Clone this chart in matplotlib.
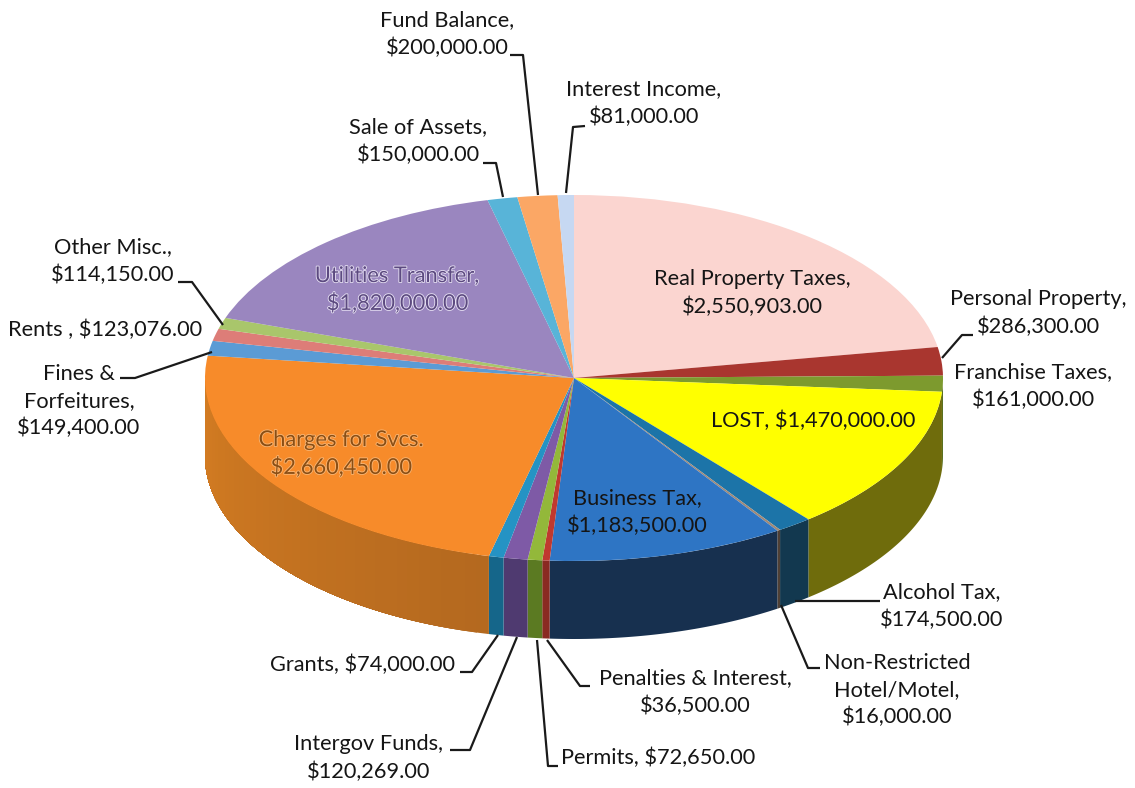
import numpy as np
import matplotlib
matplotlib.use("Agg")
import matplotlib.pyplot as plt
import matplotlib.patheffects as pe
from matplotlib.colors import to_rgb
from matplotlib.patches import Polygon

plt.rcParams['font.family'] = ['Lato', 'DejaVu Sans']

# clockwise from 12 o'clock
categories = ["Real Property Taxes", "Personal Property", "Franchise Taxes", "LOST",
              "Alcohol Tax", "Non-Restricted Hotel/Motel", "Business Tax",
              "Penalties & Interest", "Permits", "Intergov Funds", "Grants",
              "Charges for Svcs.", "Fines & Forfeitures", "Rents", "Other Misc.",
              "Utilities Transfer", "Sale of Assets", "Fund Balance", "Interest Income"]
values = [2550903, 286300, 161000, 1470000, 174500, 16000, 1183500, 36500, 72650,
          120269, 74000, 2660450, 149400, 123076, 114150, 1820000, 150000, 200000, 81000]
top_colors = ["#fbd5d0", "#a9362f", "#7d9a2e", "#ffff00", "#1c74a8", "#a08a78", "#2e75c4",
              "#c0392f", "#93b83a", "#7e5aa6", "#2593c4", "#f78b2a", "#5b9bd5", "#dd7d78",
              "#a9c66b", "#9a86bf", "#58b4d8", "#fba765", "#c6d8f2"]
side_colors = ["#c9a8a4", "#7c2622", "#5a7020", "#6f6c0c", "#12384f", "#4f4036", "#17304f",
               "#8a2a22", "#5b7a22", "#4f3a70", "#15668a", "#b4691f", "#3a6a96", "#a05a55",
               "#7a9048", "#6c5e88", "#3c84a0", "#b87a48", "#8c9cb0"]
charges_wall_left = "#d47c22"

# centred text: (text, x, y) in image pixels
outer_labels = [("Fund Balance,\n$200,000.00", 447, 34),
                ("Interest Income,\n$81,000.00", 644, 103),
                ("Sale of Assets,\n$150,000.00", 418, 141),
                ("Other Misc.,\n$114,150.00", 113, 261),
                ("Rents , $123,076.00", 105, 330),
                ("Fines &\nForfeitures,\n$149,400.00", 79, 401),
                ("Personal Property,\n$286,300.00", 1038, 313),
                ("Franchise Taxes,\n$161,000.00", 1033, 386),
                ("Alcohol Tax,\n$174,500.00", 942, 606),
                ("Non-Restricted\nHotel/Motel,\n$16,000.00", 897, 690),
                ("Penalties & Interest,\n$36,500.00", 695, 692),
                ("Permits, $72,650.00", 658, 758),
                ("Intergov Funds,\n$120,269.00", 369, 758),
                ("Grants, $74,000.00", 363, 665),
                ("Real Property Taxes,\n$2,550,903.00", 752, 293),
                ("LOST, $1,470,000.00", 813, 421),
                ("Business Tax,\n$1,183,500.00", 637, 512)]
faded_labels = [("Charges for Svcs.\n$2,660,450.00", 341, 454, "#8a4e14", "#f9b777"),
                ("Utilities Transfer,\n$1,820,000.00", 397, 290, "#5c4a80", "#e8e2f4")]
leaders = [[(538, 195), (523, 55), (510, 55)],
           [(566, 193), (573, 127), (585, 126)],
           [(503, 197), (496, 163), (483, 163)],
           [(223, 325), (192, 282), (178, 282)],
           [(212, 352), (135, 378), (120, 378)],
           [(942, 358), (962, 335), (973, 335)],
           [(795, 601), (880, 601)],
           [(781, 605), (808, 668), (820, 668)],
           [(547, 640), (580, 686), (590, 686)],
           [(537, 640), (548, 766), (558, 766)],
           [(517, 637), (470, 750), (450, 750)],
           [(498, 635), (472, 672), (460, 672)]]

W, H = 1135, 788
CX, CY, RX, RY, DEPTH = 574, 378, 369, 183, 78

fig = plt.figure(figsize=(W / 100, H / 100), dpi=100, facecolor="white")

# pie axes stretched over the top ellipse's bounding box, so the circle squashes
pie_ax = fig.add_axes([(CX - RX) / W, 1 - (CY + RY) / H, 2 * RX / W, 2 * RY / H])
pie_ax.pie(values, colors=top_colors, startangle=90, counterclock=False, radius=1)
pie_ax.set_aspect("auto")
pie_ax.set_xlim(-1, 1)
pie_ax.set_ylim(-1, 1)
pie_ax.set_zorder(2)

# side wall drawn in pixel axes under the pie
ax = fig.add_axes([0, 0, 1, 1])
ax.set_xlim(0, W)
ax.set_ylim(H, 0)
ax.axis("off")
ax.set_zorder(1)


def wall_strip(a0, a1, color):
    t = np.linspace(a0, a1, 120)
    x = CX + RX * np.sin(t)
    y = CY - RY * np.cos(t)
    pts = np.column_stack([np.r_[x, x[::-1]], np.r_[y, y[::-1] + DEPTH]])
    ax.add_patch(Polygon(pts, closed=True, facecolor=color, edgecolor="none"))


edges = np.concatenate([[0], np.cumsum(values)]) / np.sum(values) * 2 * np.pi
for i in range(len(values)):
    a0 = max(edges[i], np.pi / 2)
    a1 = min(edges[i + 1], 3 * np.pi / 2)
    if a1 <= a0:
        continue
    if categories[i] == "Charges for Svcs.":
        # this wall gets lighter towards the left, each strip painted over the last
        cuts = np.linspace(a0, a1, 41)
        c0 = np.array(to_rgb(side_colors[i]))
        c1 = np.array(to_rgb(charges_wall_left))
        for k in range(40):
            wall_strip(cuts[k], a1, tuple(c0 + (c1 - c0) * k / 39))
    else:
        wall_strip(a0, a1, side_colors[i])

# text and leaders go on top of everything
top = fig.add_axes([0, 0, 1, 1])
top.set_xlim(0, W)
top.set_ylim(H, 0)
top.axis("off")
top.set_zorder(3)
top.patch.set_alpha(0)

for pts in leaders:
    xs, ys = zip(*pts)
    top.plot(xs, ys, color="#1a1a1a", lw=1.6, solid_capstyle="butt")

for txt, x, y in outer_labels:
    top.text(x, y, txt, ha="center", va="center", fontsize=15.7, color="#151515", linespacing=1.45)

for txt, x, y, col, halo in faded_labels:
    top.text(x, y, txt, ha="center", va="center", fontsize=15.7, color=col, linespacing=1.45,
             path_effects=[pe.withStroke(linewidth=1.2, foreground=halo)])

fig.savefig("out.png", dpi=100)
